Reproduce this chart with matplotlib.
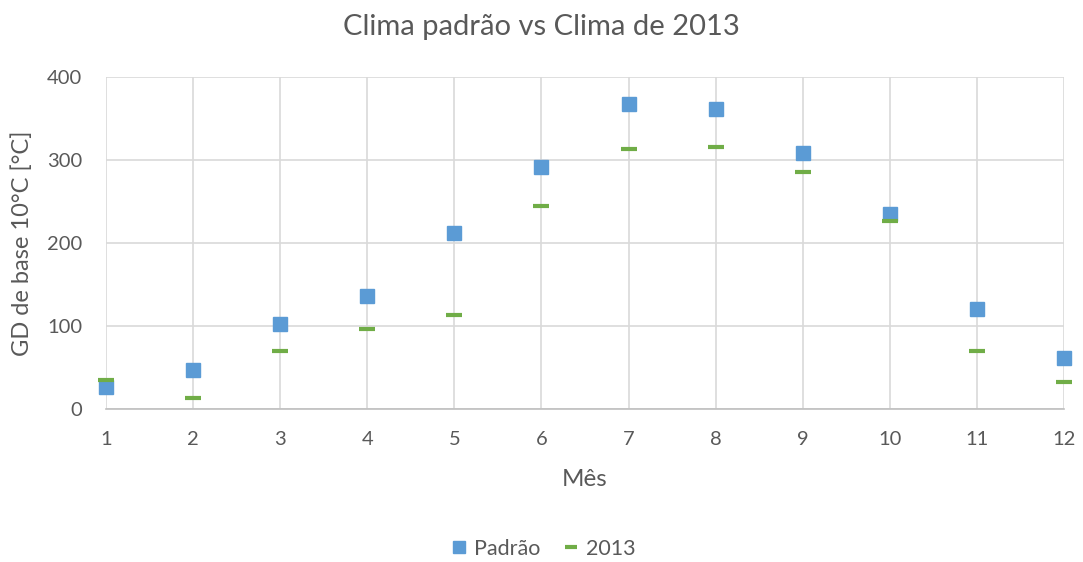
import matplotlib
matplotlib.use("Agg")
import matplotlib.pyplot as plt

# Monthly growing degree-days (base 10 °C)
meses = [1, 2, 3, 4, 5, 6, 7, 8, 9, 10, 11, 12]
padrao = [27, 47, 102, 136, 212, 291, 367, 362, 308, 235, 120, 62]
ano_2013 = [35, 13, 70, 96, 113, 245, 313, 316, 286, 227, 70, 33]
y_ticks = [0, 100, 200, 300, 400]

text_color = "#595959"
grid_color = "#d9d9d9"
blue = "#5B9BD5"
green = "#70AD47"

plt.rcParams["font.family"] = ["Lato", "DejaVu Sans"]

fig = plt.figure(figsize=(10.83, 5.62), dpi=100)
ax = fig.add_axes([106 / 1083, 1 - 409 / 562, (1064 - 106) / 1083, (409 - 77) / 562])

ax.plot(meses, padrao, linestyle="none", marker="s", markersize=10.5,
        color=blue, markeredgecolor=blue, label="Padrão", zorder=3, clip_on=False)
ax.plot(meses, ano_2013, linestyle="none", marker="_", markersize=11,
        markeredgewidth=3, color=green, label="2013", zorder=4, clip_on=False)

ax.set_xlim(1, 12)
ax.set_ylim(0, 400)
ax.set_xticks(meses)
ax.set_yticks(y_ticks)
ax.grid(True, color=grid_color, linewidth=1.2)
ax.set_axisbelow(True)
for side in ["top", "right", "left"]:
    ax.spines[side].set_visible(False)
ax.spines["bottom"].set_color("#bfbfbf")
ax.spines["bottom"].set_linewidth(1.2)
ax.tick_params(axis="both", length=0, labelsize=14.5, labelcolor=text_color)
ax.tick_params(axis="x", pad=16)
ax.tick_params(axis="y", pad=17)

ax.set_xlabel("Mês", fontsize=17.5, color=text_color, labelpad=15)
ax.set_ylabel("GD de base 10°C [°C]", fontsize=17, color=text_color, labelpad=10)

fig.text(0.5, 1 - 27 / 562, "Clima padrão vs Clima de 2013",
         ha="center", va="center", fontsize=21, color=text_color)

leg = fig.legend(loc="center", bbox_to_anchor=(543 / 1083, 1 - 549 / 562), ncol=2,
                 frameon=False, fontsize=15.5, handlelength=0.8, handletextpad=0.3,
                 columnspacing=1.0, markerscale=0.85, labelcolor=text_color)

fig.savefig("out.png", dpi=100)
